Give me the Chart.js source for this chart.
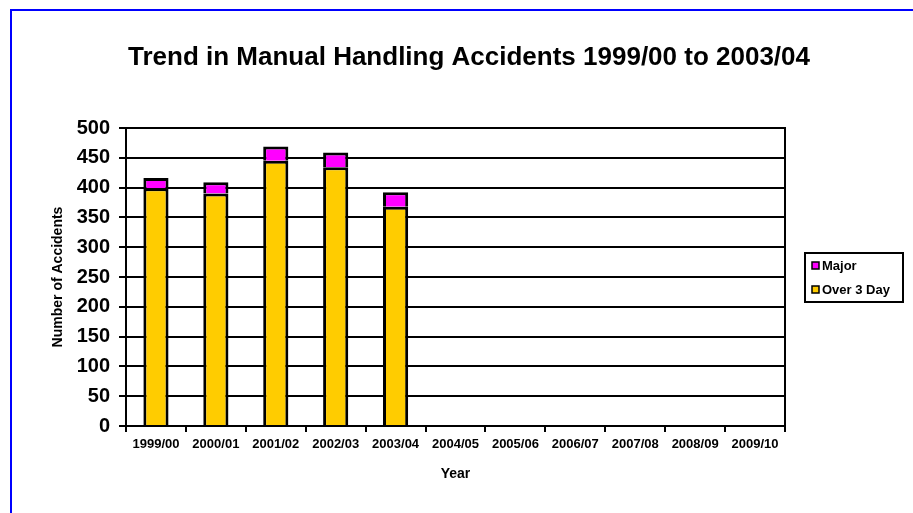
<!DOCTYPE html>
<html>
<head>
<meta charset="utf-8">
<script src="https://cdn.jsdelivr.net/npm/chart.js@4/dist/chart.umd.min.js"></script>
<style>
  html, body { margin: 0; padding: 0; background: #fff; }
  #wrap { width: 913px; height: 513px; }
</style>
</head>
<body>
<div id="wrap"><canvas id="c" width="913" height="513"></canvas></div>
<script>
// Financial years on the category axis
const years = ['1999/00', '2000/01', '2001/02', '2002/03', '2003/04',
               '2004/05', '2005/06', '2006/07', '2007/08', '2008/09', '2009/10'];
// Accidents reported as "over 3 day" injuries
const over3Day = [399, 390, 445, 434, 368, null, null, null, null, null, null];
// Accidents reported as major injuries
const major = [17, 19, 24, 25, 24, null, null, null, null, null, null];
// Value axis ticks
const yTicks = [0, 50, 100, 150, 200, 250, 300, 350, 400, 450, 500];

const chartTitle = 'Trend in Manual Handling Accidents 1999/00 to 2003/04';
const FONT = 'Arial, "Liberation Sans", sans-serif';

// Outer frame, title, plot border and boxed legend
const decor = {
  id: 'decor',
  beforeDraw(chart) {
    const ctx = chart.ctx;
    ctx.save();
    ctx.fillStyle = '#fff';
    ctx.fillRect(0, 0, chart.width, chart.height);
    ctx.strokeStyle = '#0000ff';
    ctx.lineWidth = 2;
    ctx.strokeRect(11, 10, chart.width + 20, chart.height + 20);
    ctx.restore();
  },
  afterDraw(chart) {
    const ctx = chart.ctx;
    const a = chart.chartArea;
    ctx.save();
    // title
    ctx.fillStyle = '#000';
    ctx.font = 'bold 26px ' + FONT;
    ctx.textAlign = 'center';
    ctx.textBaseline = 'middle';
    ctx.fillText(chartTitle, 469, 58);
    // plot border
    ctx.strokeStyle = '#000';
    ctx.lineWidth = 2;
    ctx.strokeRect(a.left, a.top, a.right - a.left, a.bottom - a.top);
    // legend box
    ctx.strokeRect(805, 253, 98, 49);
    const items = chart.data.datasets.slice().reverse();
    ctx.font = 'bold 13px ' + FONT;
    ctx.textAlign = 'left';
    items.forEach((ds, i) => {
      const cy = 265 + i * 24;
      ctx.fillStyle = ds.backgroundColor;
      ctx.fillRect(812, cy - 3, 7, 7);
      ctx.lineWidth = 1.5;
      ctx.strokeStyle = '#000';
      ctx.strokeRect(812, cy - 3, 7, 7);
      ctx.fillStyle = '#000';
      ctx.fillText(ds.label, 822, cy + 1);
    });
    ctx.restore();
  }
};

new Chart(document.getElementById('c'), {
  type: 'bar',
  data: {
    labels: years,
    datasets: [
      { label: 'Over 3 Day', data: over3Day, backgroundColor: '#ffcc00',
        borderColor: '#000', borderWidth: 3 },
      { label: 'Major', data: major, backgroundColor: '#ff00ff',
        borderColor: '#000', borderWidth: 3 }
    ]
  },
  options: {
    responsive: false,
    animation: false,
    devicePixelRatio: 1,
    layout: { padding: { left: 46, right: 128, top: 128, bottom: 30 } },
    datasets: { bar: { barPercentage: 0.42, categoryPercentage: 1 } },
    plugins: {
      legend: { display: false },
      title: { display: false },
      tooltip: { enabled: false }
    },
    scales: {
      x: {
        stacked: true,
        offset: true,
        grid: { display: true, offset: true, drawOnChartArea: false, drawTicks: true,
                tickLength: 6, color: '#000', lineWidth: 2 },
        border: { display: true, color: '#000', width: 2 },
        ticks: { color: '#000', font: { family: FONT, size: 13, weight: 'bold' },
                 maxRotation: 0, autoSkip: false, padding: 5 },
        title: { display: true, text: 'Year', color: '#000',
                 font: { family: FONT, size: 14, weight: 'bold' }, padding: { top: 8, bottom: 0 } },
        afterFit(scale) { scale.height = 57; }
      },
      y: {
        stacked: true,
        min: 0, max: 500,
        afterBuildTicks(scale) { scale.ticks = yTicks.map(v => ({ value: v })); },
        grid: { color: '#000', lineWidth: 2, drawTicks: true, tickLength: 7 },
        border: { display: true, color: '#000', width: 2 },
        ticks: { color: '#000', font: { family: FONT, size: 20, weight: 'bold' }, padding: 9 },
        title: { display: true, text: 'Number of Accidents', color: '#000',
                 font: { family: FONT, size: 14, weight: 'bold' }, padding: { bottom: 4 } },
        afterFit(scale) { scale.width = 80; }
      }
    }
  },
  plugins: [decor]
});
</script>
</body>
</html>
